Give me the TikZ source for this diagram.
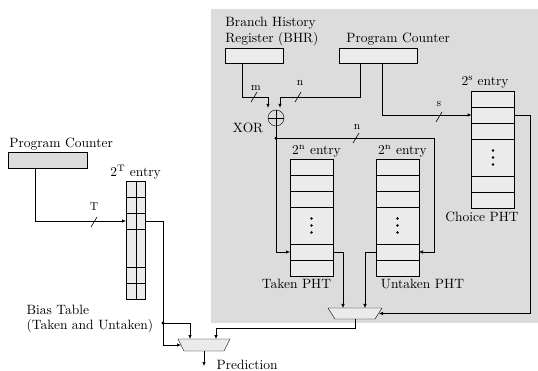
\documentclass[tikz,border=0pt]{standalone}
\usepackage{fontspec}
\setmainfont{Latin Modern Roman}
\usepackage{xcolor}
\usepackage{tikz}
\usetikzlibrary{arrows.meta,positioning,calc}
\definecolor{panelgray}{HTML}{DCDCDC}
\definecolor{cellgray}{HTML}{EBEBEB}

\begin{document}
\begin{tikzpicture}[x=1pt,y=1pt,
  cell/.style={rectangle,draw,fill=cellgray,minimum width=43pt,minimum height=16pt,inner sep=0pt,outer sep=0pt},
  tallcell/.style={cell,minimum height=37pt},
  bcell/.style={cell,minimum width=19pt},
  btall/.style={bcell,minimum height=38pt},
  reg/.style={rectangle,draw,fill=cellgray,minimum width=58pt,minimum height=15pt,inner sep=0pt},
  muxbox/.style={rectangle,inner sep=0pt,outer sep=0pt},
  muxshape/.style={draw,fill=cellgray},
  xorg/.style={circle,draw,minimum size=16pt,inner sep=0pt},
  arr/.style={-{Latex[length=4pt,width=3.5pt]},semithick},
  wire/.style={semithick},
  slash/.style={semithick},
  txt/.style={font=\normalsize,scale=1.35,inner sep=1pt},
  lbl/.style={font=\normalsize,scale=1.15,inner sep=1pt}
]
\useasboundingbox (0,0) rectangle (538,-371);

% Panel
\fill[panelgray] (211,-9) rectangle (538,-323);

% Registers
\node[reg,minimum width=58pt] (bhr) at (254,-55.5) {};
\node[reg,minimum width=78pt] (pc) at (378,-55.5) {};
\node[reg,fill=panelgray,minimum width=79pt,minimum height=16pt] (pcl) at (47.5,-160) {};
\node[txt,anchor=south west,align=left] at ([xshift=-1,yshift=0]bhr.north west) {Branch History\\Register (BHR)};
\node[txt,anchor=south west] at ([xshift=6,yshift=1]pc.north west) {Program Counter};
\node[txt,anchor=south west] at ([xshift=0,yshift=0]pcl.north west) {Program Counter};

% XOR
\node[xorg] (xor) at (276,-118) {};
\draw (xor.north) -- (xor.south) (xor.west) -- (xor.east);
\node[txt,anchor=east] at ([xshift=-3,yshift=-10]xor.west) {XOR};
\coordinate (xm) at ([xshift=-8,yshift=2]xor.north);
\coordinate (xn) at ([xshift=4,yshift=2]xor.north);

% PHTs
\foreach \t/\x/\y in {tk/311.5/-167, ut/397.5/-167, ch/493/-99}{
  \node[cell] (\t1) at (\x,\y) {};
  \node[cell,below=0pt of \t1] (\t2) {};
  \node[cell,below=0pt of \t2] (\t3) {};
  \node[tallcell,below=0pt of \t3] (\t4) {};
  \node[cell,below=0pt of \t4] (\t5) {};
  \node[cell,below=0pt of \t5] (\t6) {};
  \foreach \d in {-7,0,7}
    \fill ([yshift=\d]\t4.center) circle (1.3);
}
\node[txt,anchor=south] at ([xshift=5,yshift=0]tk1.north) {2\textsuperscript{n} entry};
\node[txt,anchor=south] at ([xshift=5,yshift=0]ut1.north) {2\textsuperscript{n} entry};
\node[txt,anchor=south] at ([xshift=-8,yshift=1]ch1.north) {2\textsuperscript{s} entry};
\node[txt,anchor=north] at ([xshift=-15,yshift=-2]tk6.south) {Taken PHT};
\node[txt,anchor=north] at ([xshift=25,yshift=-2]ut6.south) {Untaken PHT};
\node[txt,anchor=north] at ([xshift=-11,yshift=-2]ch6.south) {Choice PHT};

% Bias table
\node[bcell] (bt1) at (135.5,-189) {};
\node[bcell,below=0pt of bt1] (bt2) {};
\node[bcell,below=0pt of bt2] (bt3) {};
\node[btall,below=0pt of bt3] (bt4) {};
\node[bcell,below=0pt of bt4] (bt5) {};
\node[bcell,below=0pt of bt5] (bt6) {};
\draw ([xshift=1]bt1.north) -- ([xshift=1]bt6.south);
\node[txt,anchor=south] at ([yshift=0]bt1.north) {2\textsuperscript{T} entry};
\node[txt,anchor=north west,align=left] at (25,-304) {Bias Table\\[-1.5pt](Taken and Untaken)};

% Muxes
\node[muxbox,minimum width=54pt,minimum height=11pt] (mx1) at (355,-313.5) {};
\node[muxbox,minimum width=52pt,minimum height=12pt] (mx2) at (204,-345) {};
\draw[muxshape] (mx1.north west) -- (mx1.north east) -- ([xshift=-7]mx1.south east) -- ([xshift=7]mx1.south west) -- cycle;
\draw[muxshape] (mx2.north west) -- (mx2.north east) -- ([xshift=-6]mx2.south east) -- ([xshift=6]mx2.south west) -- cycle;

% Wires
\draw[arr] ([xshift=-12]bhr.south) -- ++(0,-34) -| (xm);
\draw[arr] ([xshift=-18]pc.south) -- ++(0,-34) -| (xn);
\draw[arr] ([xshift=4]pc.south) |- (ch2.west);
\draw[wire] (xor.south) -- ++(0,-12) coordinate (xj);
\fill (xj) circle (1.6);
\draw[arr] (xj) |- (tk5.west);
\draw[arr] (xj) -| ($(ut5.east)+(15,0)$) -- (ut5.east);
\draw[arr] (tk5.east) -| ([xshift=-12]mx1.north);
\draw[arr] (ut5.west) -| ([xshift=10]mx1.north);
\draw[arr] (ch2.east) -- ++(16,0) |- ([xshift=-3]mx1.east);
\draw[arr] (mx1.south) -- ++(0,-9) -| ([xshift=12]mx2.north);
\draw[arr] ([xshift=-12.5]pcl.south) |- (bt3.west);
\draw[wire] (bt3.east) -| (163,-323) coordinate (bj);
\fill (bj) circle (1.6);
\draw[arr] (bj) -| ([xshift=-14]mx2.north);
\draw[arr] (bj) |- ([xshift=3]mx2.west);
\draw[arr] (mx2.south) -- ++(0,-15) coordinate (pr);
\node[txt,anchor=base west] at (215,-369.5) {Prediction};

% Bus widths
\draw[slash] (254,-97) +(-3,-5) -- +(3,5);
\node[lbl] at (256,-88) {m};
\draw[slash] (298,-97) +(-3,-5) -- +(3,5);
\node[lbl] at (300,-83) {n};
\draw[slash] (439,-117) +(-3,-5) -- +(3,5);
\node[lbl] at (439,-104) {s};
\draw[slash] (356,-138) +(-3,-5) -- +(3,5);
\node[lbl] at (357,-127) {n};
\draw[slash] (94,-222) +(-3,-5) -- +(3,5);
\node[lbl] at (94,-207) {T};

\end{tikzpicture}
\end{document}
